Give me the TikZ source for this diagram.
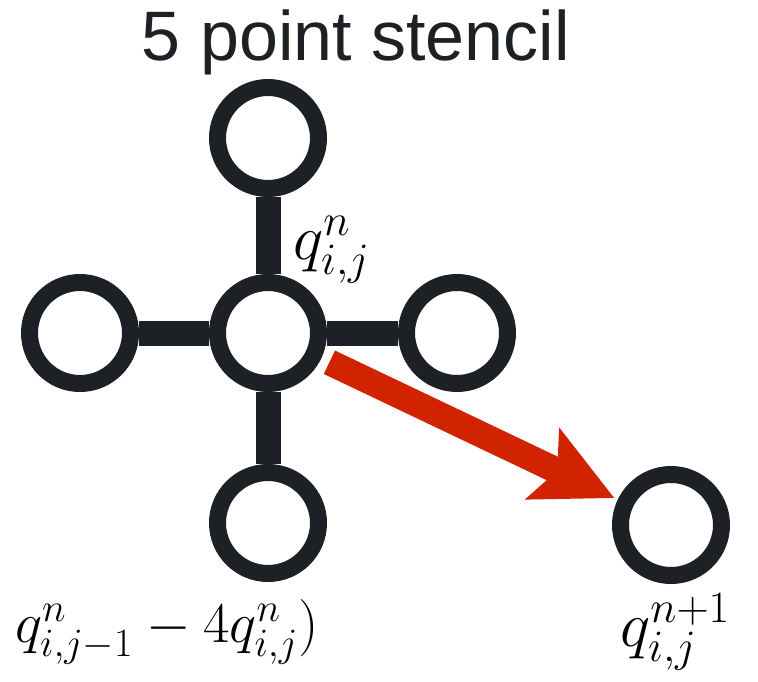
\RequirePackage{fix-cm}
\documentclass[tikz,border=0pt]{standalone}
\usepackage{fontspec}
\setsansfont{Liberation Sans}
\usetikzlibrary{arrows.meta}
\definecolor{ink}{HTML}{1D2025}
\definecolor{hot}{HTML}{D22300}

\begin{document}
\begin{tikzpicture}[x=0.75pt, y=-0.75pt,
  pt/.style={circle, draw=ink, line width=12.75pt, fill=white, minimum size=75.75pt, inner sep=0pt},
  bar/.style={draw=ink, line width=18.75pt},
  update/.style={draw=hot, line width=19.5pt, -{Stealth[length=60pt, width=60pt, inset=12.75pt, line width=0pt]}},
  lbl/.style={inner sep=0pt, anchor=base west, font=\fontsize{43}{50}\selectfont},
  biglbl/.style={lbl, font=\fontsize{48}{56}\selectfont}
]
  \useasboundingbox (0,0) rectangle (758,682);

  \node[font=\sffamily\fontsize{52.5}{60}\selectfont, text=ink, anchor=base] (title) at (356,60) {5 point stencil};

  % stencil points
  \node[pt] (nup) at (268,138) {};
  \node[pt] (nleft) at (80,333) {};
  \node[pt] (qc) at (268,333) {};
  \node[pt] (nright) at (457,333) {};
  \node[pt] (ndown) at (268,523) {};
  \node[pt] (qnext) at (671,525) {};

  \draw[bar] (nup) -- (qc);
  \draw[bar] (nleft) -- (qc);
  \draw[bar] (qc) -- (nright);
  \draw[bar] (qc) -- (ndown);

  \draw[update, shorten <=51pt, shorten >=47.25pt] (qc.center) -- (qnext.center);

  \node[biglbl] (qij) at (293,259) {$q^n_{i,j}$};
  \node[lbl] (sum) at (15,642) {$q^n_{i,j-1} - 4q^n_{i,j})$};
  \node[biglbl] (qnew) at (620,646) {$q^{n+1}_{i,j}$};
\end{tikzpicture}
\end{document}
